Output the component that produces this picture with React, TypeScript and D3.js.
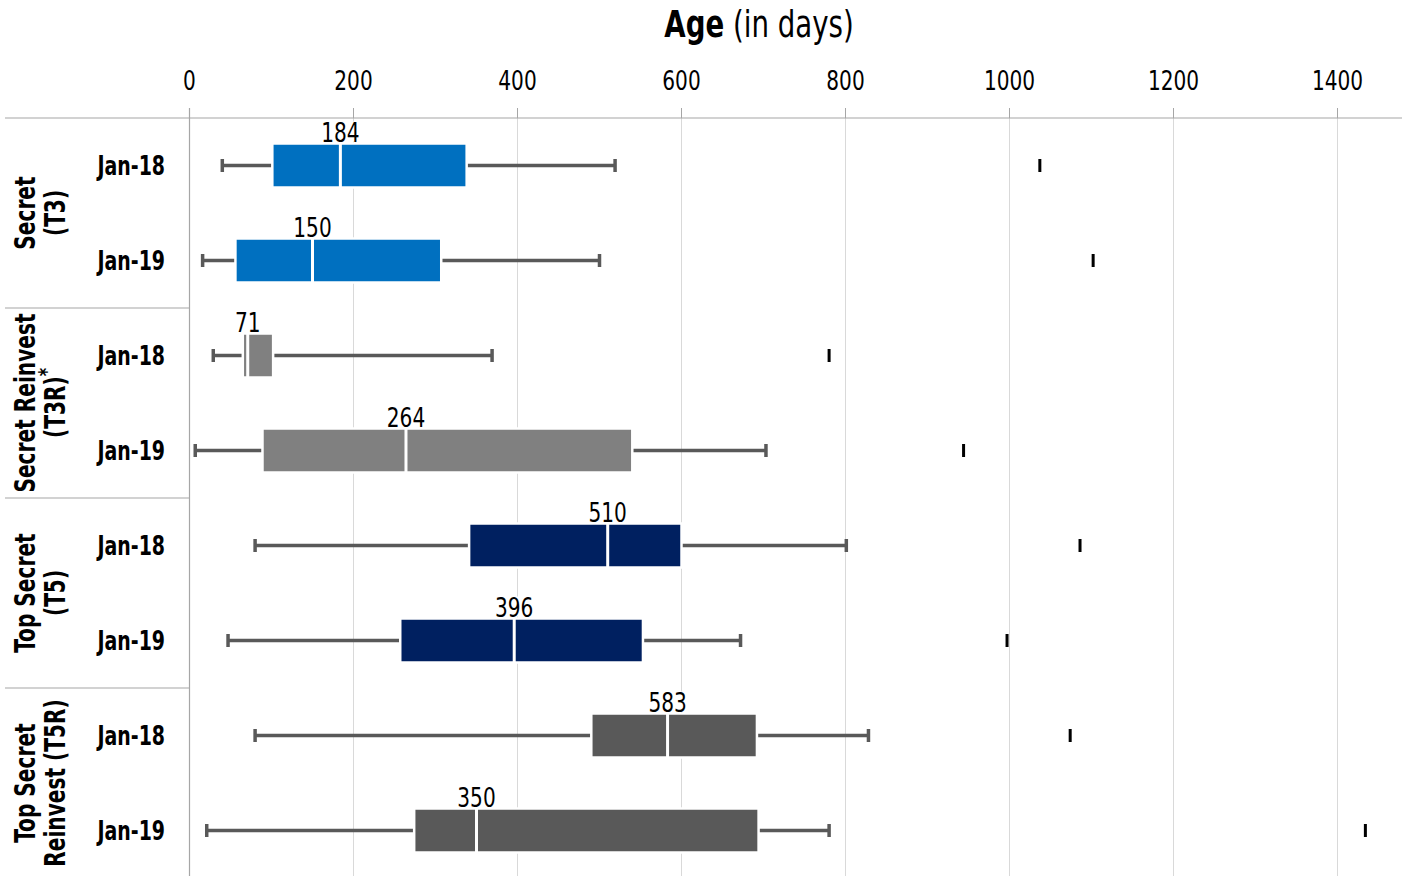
import React from "react";
import * as d3 from "d3";

const groupLines: string[][] = [
  ["Secret", "(T3)"],
  ["Secret Reinvest", "(T3R)"],
  ["Top Secret", "(T5)"],
  ["Top Secret", "Reinvest (T5R)"],
];
const groupStar = [false, true, false, false];
const groupColors = ["#0070C0", "#808080", "#002060", "#595959"];
const periods = ["Jan-18", "Jan-19", "Jan-18", "Jan-19", "Jan-18", "Jan-19", "Jan-18", "Jan-19"];
const rowGroup = [0, 0, 1, 1, 2, 2, 3, 3];
const mins = [40, 16, 29, 7, 80, 47, 80, 21];
const q1s = [101, 56, 65, 89, 341, 257, 490, 274];
const medians = [184, 150, 71, 264, 510, 396, 583, 350];
const q3s = [338, 307, 102, 540, 600, 553, 692, 694];
const maxs = [519, 500, 369, 703, 801, 672, 828, 780];
const outliers = [1037, 1102, 780, 944, 1086, 997, 1074, 1434];
const xTicks = [0, 200, 400, 600, 800, 1000, 1200, 1400];

const W = 1402;
const H = 876;
const FONT = "'DejaVu Sans Condensed', 'DejaVu Sans', sans-serif";

function SText(props: {
  x: number;
  y: number;
  sx: number;
  size: number;
  weight?: string;
  anchor?: string;
  rotate?: number;
  children: React.ReactNode;
}) {
  const { x, y, sx, size, weight, anchor, rotate, children } = props;
  const tr = `translate(${x},${y})${rotate ? ` rotate(${rotate})` : ""} scale(${sx},1)`;
  return (
    <text transform={tr} fontSize={size} fontWeight={weight || "normal"} textAnchor={anchor || "middle"} fill="#000">
      {children}
    </text>
  );
}

export default function App() {
  const x = d3.scaleLinear().domain([0, 1400]).range([189.5, 1337.5]);
  const rows = d3.range(periods.length);
  const y = d3.scaleBand<number>().domain(rows).range([118, 878]).paddingInner(0).paddingOuter(0);
  const groupY = d3.scaleBand<number>().domain(d3.range(groupLines.length)).range([118, 878]);
  const boxH = 44;
  const capH = 13;
  const axisY = 118;
  const x0 = x(0);

  return (
    <svg width={W} height={H} style={{ position: "absolute", left: 0, top: 0, background: "#fff" }} fontFamily={FONT}>
      <rect x={0} y={0} width={W} height={H} fill="#fff" />
      {/* title */}
      <SText x={759} y={37} sx={0.83} size={37}>
        <tspan fontWeight="bold">Age</tspan>
        <tspan> (in days)</tspan>
      </SText>
      {/* gridlines */}
      {xTicks.filter((t) => t > 0).map((t) => (
        <line key={"g" + t} x1={x(t)} x2={x(t)} y1={axisY} y2={H} stroke="#d9d9d9" strokeWidth={1} />
      ))}
      {/* ticks + labels */}
      {xTicks.map((t) => (
        <g key={"t" + t}>
          <line x1={x(t)} x2={x(t)} y1={108} y2={axisY} stroke="#a6a6a6" strokeWidth={1} />
          <SText x={x(t)} y={90} sx={0.86} size={26}>{t}</SText>
        </g>
      ))}
      {/* axis lines */}
      <line x1={5} x2={W} y1={axisY} y2={axisY} stroke="#a6a6a6" strokeWidth={1.2} />
      <line x1={x0} x2={x0} y1={108} y2={H} stroke="#a6a6a6" strokeWidth={1.2} />
      {/* group separators */}
      {d3.range(1, groupLines.length).map((g) => (
        <line key={"s" + g} x1={5} x2={x0} y1={groupY(g)!} y2={groupY(g)!} stroke="#a6a6a6" strokeWidth={1.2} />
      ))}
      {/* group labels */}
      {groupLines.map((lines, g) => {
        const cy = groupY(g)! + groupY.bandwidth() / 2;
        return (
          <g key={"gl" + g}>
            <SText x={35} y={cy} sx={0.8} size={28} weight="bold" rotate={-90}>{lines[0]}</SText>
            <SText x={65} y={cy} sx={0.8} size={28} weight="bold" rotate={-90}>
              {lines[1]}
              {groupStar[g] ? <tspan fontSize={22} dy={-11}>*</tspan> : null}
            </SText>
          </g>
        );
      })}
      {/* rows */}
      {rows.map((i) => {
        const cy = y(i)! + y.bandwidth() / 2;
        const top = cy - boxH / 2;
        const col = groupColors[rowGroup[i]];
        const label = String(medians[i]);
        const lw = label.length * 12.5 + 2;
        return (
          <g key={"r" + i}>
            <SText x={165} y={cy + 9} sx={0.81} size={26} weight="bold" anchor="end">{periods[i]}</SText>
            {/* whiskers */}
            <line x1={x(mins[i])} x2={x(q1s[i])} y1={cy} y2={cy} stroke="#595959" strokeWidth={3.5} />
            <line x1={x(q3s[i])} x2={x(maxs[i])} y1={cy} y2={cy} stroke="#595959" strokeWidth={3.5} />
            <line x1={x(mins[i])} x2={x(mins[i])} y1={cy - capH / 2} y2={cy + capH / 2} stroke="#595959" strokeWidth={3.5} />
            <line x1={x(maxs[i])} x2={x(maxs[i])} y1={cy - capH / 2} y2={cy + capH / 2} stroke="#595959" strokeWidth={3.5} />
            {/* box */}
            <rect x={x(q1s[i])} y={top} width={x(q3s[i]) - x(q1s[i])} height={boxH} fill={col} stroke="#fff" strokeWidth={2.5} />
            <line x1={x(medians[i])} x2={x(medians[i])} y1={top} y2={top + boxH} stroke="#fff" strokeWidth={3} />
            {/* outlier */}
            <rect x={x(outliers[i]) - 1.5} y={cy - 6.5} width={3} height={13} fill="#000" />
            {/* median label */}
            <rect x={x(medians[i]) - lw / 2} y={top - 22} width={lw} height={20} fill="#fff" />
            <SText x={x(medians[i])} y={top - 2} sx={0.86} size={26}>{label}</SText>
          </g>
        );
      })}
    </svg>
  );
}
